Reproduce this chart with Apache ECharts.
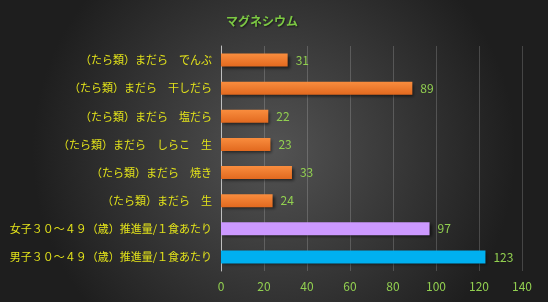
<!DOCTYPE html>
<html>
<head>
<meta charset="utf-8">
<script src="https://cdn.jsdelivr.net/npm/echarts@6/dist/echarts.min.js"></script>
<style>
  html, body { margin: 0; padding: 0; }
  #chart { width: 548px; height: 302px; }
</style>
</head>
<body>
<div id="chart"></div>
<script>
// カテゴリ（上から順）
const categories = [
  '（たら類）まだら　でんぶ',
  '（たら類）まだら　干しだら',
  '（たら類）まだら　塩だら',
  '（たら類）まだら　しらこ　生',
  '（たら類）まだら　焼き',
  '（たら類）まだら　生',
  '女子３０～４９（歳）推進量/１食あたり',
  '男子３０～４９（歳）推進量/１食あたり'
]
const values = [31, 89, 22, 23, 33, 24, 97, 123]
const xTicks = [0, 20, 40, 60, 80, 100, 120, 140]

const orange = {
  type: 'linear', x: 0, y: 0, x2: 0, y2: 1,
  colorStops: [{ offset: 0, color: '#f98d3e' }, { offset: 1, color: '#e2691f' }]
}
const barColors = [orange, orange, orange, orange, orange, orange, '#cc99ff', '#00b0f0']

const chart = echarts.init(document.getElementById('chart'))
const option = {
  backgroundColor: {
    type: 'radial', x: 0.5, y: 0.5, r: 0.8,
    colorStops: [{ offset: 0, color: '#535353' }, { offset: 1, color: '#1e1e1e' }]
  },
  animation: false,
  title: {
    text: 'マグネシウム',
    left: 221,
    top: 10,
    textStyle: {
      color: '#7cc843',
      fontSize: 12,
      fontWeight: 'bold',
      fontFamily: 'Noto Sans CJK JP',
      textShadowColor: 'rgba(0,0,0,0.6)',
      textShadowBlur: 2,
      textShadowOffsetX: 1,
      textShadowOffsetY: 1
    }
  },
  grid: { left: 221, right: 26, top: 46, bottom: 31 },
  xAxis: {
    type: 'value',
    min: 0,
    max: 140,
    interval: 20,
    axisLine: { show: false },
    axisTick: { show: false },
    splitLine: { lineStyle: { color: 'rgba(255,255,255,0.18)', width: 1 } },
    axisLabel: {
      color: '#92d050',
      fontSize: 12,
      margin: 9,
      fontFamily: 'Noto Sans CJK JP',
      formatter: function (v) { return xTicks.indexOf(v) >= 0 ? String(v) : '' }
    }
  },
  yAxis: {
    type: 'category',
    inverse: true,
    data: categories,
    axisLine: { lineStyle: { color: '#bfbfbf', width: 1 } },
    axisTick: { show: false },
    axisLabel: {
      color: '#e3e31a',
      fontSize: 11,
      margin: 9,
      fontFamily: 'Noto Sans CJK JP'
    }
  },
  series: [
    {
      type: 'bar',
      barWidth: 13,
      data: values.map(function (v, i) {
        return { value: v, itemStyle: { color: barColors[i] } }
      }),
      itemStyle: {
        shadowColor: 'rgba(0,0,0,0.55)',
        shadowBlur: 3,
        shadowOffsetX: 2,
        shadowOffsetY: 2
      },
      label: {
        show: true,
        position: 'right',
        distance: 8,
        color: '#92d050',
        fontSize: 12,
        fontFamily: 'Noto Sans CJK JP'
      }
    }
  ]
}
chart.setOption(option)
</script>
</body>
</html>
